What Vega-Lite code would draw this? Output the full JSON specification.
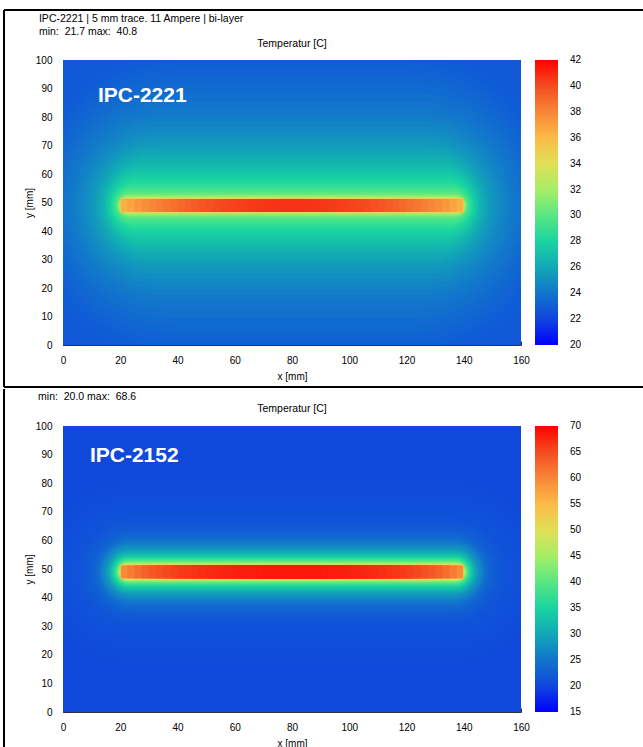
{
  "$schema": "https://vega.github.io/schema/vega-lite/v6.json",
  "background": "white",
  "padding": {"left": 3, "top": 9, "right": 0, "bottom": 0},
  "config": {
    "font": "Liberation Sans",
    "view": {"stroke": null},
    "axis": {"labelFontSize": 10, "labelColor": "#000", "titleFontSize": 10, "titleFontWeight": "normal", "titleColor": "#000", "grid": false, "domainColor": "#333", "tickColor": "#1a2a60", "labelFlush": false, "labelOverlap": false, "tickSize": -4, "zindex": 1},
    "axisX": {"tickCount": 9, "labelPadding": 14, "titlePadding": 6},
    "axisY": {"tickCount": 11, "labelPadding": 15, "titlePadding": 1},
    "legend": {"labelFontSize": 10, "labelColor": "#000"}
  },
  "datasets": {
    "a": [
      {"k": "b", "t": 22.6, "x": 0, "x2": 160, "y": 0, "y2": 100},
      {"k": "i", "t": 22.8, "x": -30, "x2": 190, "y": -15.5, "y2": 113.5},
      {"k": "i", "t": 22.9, "x": -20, "x2": 180, "y": -8.5, "y2": 106.5},
      {"k": "i", "t": 23.0, "x": -13, "x2": 173, "y": -3.5, "y2": 101.5},
      {"k": "i", "t": 23.15, "x": -10, "x2": 170, "y": -1, "y2": 99},
      {"k": "i", "t": 23.3, "x": -8, "x2": 168, "y": 1.5, "y2": 96.5},
      {"k": "i", "t": 23.45, "x": -6, "x2": 166, "y": 4, "y2": 94},
      {"k": "i", "t": 23.6, "x": -4, "x2": 164, "y": 6.5, "y2": 91.5},
      {"k": "i", "t": 23.8, "x": -2, "x2": 162, "y": 9.5, "y2": 88.5},
      {"k": "i", "t": 24.0, "x": 0, "x2": 160, "y": 12.5, "y2": 85.5},
      {"k": "i", "t": 24.2, "x": 1.8, "x2": 158.2, "y": 15, "y2": 83},
      {"k": "i", "t": 24.4, "x": 3.5, "x2": 156.5, "y": 17.5, "y2": 80.5},
      {"k": "i", "t": 24.6, "x": 5, "x2": 155, "y": 19.5, "y2": 78.5},
      {"k": "i", "t": 24.8, "x": 6.5, "x2": 153.5, "y": 21.5, "y2": 76.5},
      {"k": "i", "t": 25.0, "x": 7.8, "x2": 152.2, "y": 23.2, "y2": 74.8},
      {"k": "i", "t": 25.2, "x": 9, "x2": 151, "y": 24.8, "y2": 73.2},
      {"k": "i", "t": 25.4, "x": 10, "x2": 150, "y": 26.3, "y2": 71.7},
      {"k": "i", "t": 25.6, "x": 10.8, "x2": 149.2, "y": 27.7, "y2": 70.3},
      {"k": "i", "t": 25.8, "x": 11.7, "x2": 148.3, "y": 29, "y2": 69},
      {"k": "i", "t": 26.0, "x": 12.5, "x2": 147.5, "y": 30.3, "y2": 67.7},
      {"k": "i", "t": 26.2, "x": 13.1, "x2": 146.9, "y": 31.5, "y2": 66.5},
      {"k": "i", "t": 26.4, "x": 13.7, "x2": 146.3, "y": 32.6, "y2": 65.4},
      {"k": "i", "t": 26.6, "x": 14.15, "x2": 145.85, "y": 33.7, "y2": 64.3},
      {"k": "i", "t": 26.8, "x": 14.6, "x2": 145.4, "y": 34.7, "y2": 63.3},
      {"k": "i", "t": 27.0, "x": 14.95, "x2": 145.05, "y": 35.7, "y2": 62.3},
      {"k": "i", "t": 27.2, "x": 15.3, "x2": 144.7, "y": 36.6, "y2": 61.4},
      {"k": "i", "t": 27.4, "x": 15.65, "x2": 144.35, "y": 37.5, "y2": 60.5},
      {"k": "i", "t": 27.6, "x": 16, "x2": 144, "y": 38.3, "y2": 59.7},
      {"k": "i", "t": 27.8, "x": 16.3, "x2": 143.7, "y": 39, "y2": 59},
      {"k": "i", "t": 28.0, "x": 16.6, "x2": 143.4, "y": 39.7, "y2": 58.3},
      {"k": "i", "t": 28.2, "x": 16.85, "x2": 143.15, "y": 40.3, "y2": 57.7},
      {"k": "i", "t": 28.4, "x": 17.1, "x2": 142.9, "y": 40.9, "y2": 57.1},
      {"k": "i", "t": 28.6, "x": 17.35, "x2": 142.65, "y": 41.45, "y2": 56.55},
      {"k": "i", "t": 28.8, "x": 17.6, "x2": 142.4, "y": 42, "y2": 56},
      {"k": "i", "t": 29.0, "x": 17.8, "x2": 142.2, "y": 42.45, "y2": 55.55},
      {"k": "i", "t": 29.2, "x": 18, "x2": 142, "y": 42.9, "y2": 55.1},
      {"k": "i", "t": 29.4, "x": 18.2, "x2": 141.8, "y": 43.3, "y2": 54.7},
      {"k": "i", "t": 29.6, "x": 18.4, "x2": 141.6, "y": 43.7, "y2": 54.3},
      {"k": "i", "t": 30.0, "x": 18.7, "x2": 141.3, "y": 44.3, "y2": 53.7},
      {"k": "i", "t": 30.5, "x": 19, "x2": 141, "y": 44.9, "y2": 53.1},
      {"k": "i", "t": 31.0, "x": 19.2, "x2": 140.8, "y": 45.3, "y2": 52.7},
      {"k": "i", "t": 31.6, "x": 19.45, "x2": 140.55, "y": 45.7, "y2": 52.3},
      {"k": "i", "t": 32.3, "x": 19.65, "x2": 140.35, "y": 46.05, "y2": 51.95},
      {"k": "i", "t": 33.0, "x": 19.85, "x2": 140.15, "y": 46.3, "y2": 51.7},
      {"k": "t", "t": 35.5, "x": 20, "x2": 140, "y": 46.5, "y2": 51.5},
      {"k": "t", "t": 36.4, "x": 20.25, "x2": 139.75, "y": 46.75, "y2": 51.25},
      {"k": "t", "t": 36.9, "x": 22.5, "x2": 137.5, "y": 46.75, "y2": 51.25},
      {"k": "t", "t": 37.3, "x": 25, "x2": 135, "y": 46.75, "y2": 51.25},
      {"k": "t", "t": 37.7, "x": 27.5, "x2": 132.5, "y": 46.75, "y2": 51.25},
      {"k": "t", "t": 38.0, "x": 30, "x2": 130, "y": 46.75, "y2": 51.25},
      {"k": "t", "t": 38.3, "x": 32.5, "x2": 127.5, "y": 46.75, "y2": 51.25},
      {"k": "t", "t": 38.55, "x": 35, "x2": 125, "y": 46.75, "y2": 51.25},
      {"k": "t", "t": 38.8, "x": 37.5, "x2": 122.5, "y": 46.75, "y2": 51.25},
      {"k": "t", "t": 39.05, "x": 40, "x2": 120, "y": 46.75, "y2": 51.25},
      {"k": "t", "t": 39.3, "x": 42.5, "x2": 117.5, "y": 46.75, "y2": 51.25},
      {"k": "t", "t": 39.5, "x": 45, "x2": 115, "y": 46.75, "y2": 51.25},
      {"k": "t", "t": 39.7, "x": 47.5, "x2": 112.5, "y": 46.75, "y2": 51.25},
      {"k": "t", "t": 39.85, "x": 50, "x2": 110, "y": 46.75, "y2": 51.25},
      {"k": "t", "t": 40.0, "x": 52.5, "x2": 107.5, "y": 46.75, "y2": 51.25},
      {"k": "t", "t": 40.15, "x": 55, "x2": 105, "y": 46.75, "y2": 51.25},
      {"k": "t", "t": 40.25, "x": 57.5, "x2": 102.5, "y": 46.75, "y2": 51.25},
      {"k": "t", "t": 40.35, "x": 60, "x2": 100, "y": 46.75, "y2": 51.25},
      {"k": "t", "t": 40.45, "x": 62.5, "x2": 97.5, "y": 46.75, "y2": 51.25},
      {"k": "t", "t": 40.55, "x": 65, "x2": 95, "y": 46.75, "y2": 51.25},
      {"k": "t", "t": 40.62, "x": 67.5, "x2": 92.5, "y": 46.75, "y2": 51.25},
      {"k": "t", "t": 40.7, "x": 70, "x2": 90, "y": 46.75, "y2": 51.25},
      {"k": "t", "t": 40.75, "x": 72.5, "x2": 87.5, "y": 46.75, "y2": 51.25},
      {"k": "t", "t": 40.8, "x": 75, "x2": 85, "y": 46.75, "y2": 51.25}
    ],
    "b": [
      {"k": "b", "t": 20.2, "x": 0, "x2": 160, "y": 0, "y2": 100},
      {"k": "i", "t": 20.5, "x": -10, "x2": 170, "y": 14.5, "y2": 83.5},
      {"k": "i", "t": 20.65, "x": -7, "x2": 167, "y": 18.5, "y2": 79.5},
      {"k": "i", "t": 20.8, "x": -4, "x2": 164, "y": 22.5, "y2": 75.5},
      {"k": "i", "t": 21.0, "x": -1.5, "x2": 161.5, "y": 25, "y2": 73},
      {"k": "i", "t": 21.2, "x": 1, "x2": 159, "y": 27.5, "y2": 70.5},
      {"k": "i", "t": 21.4, "x": 3, "x2": 157, "y": 29, "y2": 69},
      {"k": "i", "t": 21.6, "x": 5, "x2": 155, "y": 30.5, "y2": 67.5},
      {"k": "i", "t": 21.8, "x": 6.25, "x2": 153.75, "y": 31.25, "y2": 66.75},
      {"k": "i", "t": 22.0, "x": 7.5, "x2": 152.5, "y": 32, "y2": 66},
      {"k": "i", "t": 22.3, "x": 8.35, "x2": 151.65, "y": 32.95, "y2": 65.05},
      {"k": "i", "t": 22.6, "x": 9.2, "x2": 150.8, "y": 33.9, "y2": 64.1},
      {"k": "i", "t": 22.95, "x": 9.9, "x2": 150.1, "y": 34.7, "y2": 63.3},
      {"k": "i", "t": 23.3, "x": 10.6, "x2": 149.4, "y": 35.5, "y2": 62.5},
      {"k": "i", "t": 23.65, "x": 11.15, "x2": 148.85, "y": 36.15, "y2": 61.85},
      {"k": "i", "t": 24.0, "x": 11.7, "x2": 148.3, "y": 36.8, "y2": 61.2},
      {"k": "i", "t": 24.4, "x": 12.1, "x2": 147.9, "y": 37.3, "y2": 60.7},
      {"k": "i", "t": 24.8, "x": 12.5, "x2": 147.5, "y": 37.8, "y2": 60.2},
      {"k": "i", "t": 25.25, "x": 12.85, "x2": 147.15, "y": 38.2, "y2": 59.8},
      {"k": "i", "t": 25.7, "x": 13.2, "x2": 146.8, "y": 38.6, "y2": 59.4},
      {"k": "i", "t": 26.2, "x": 13.5, "x2": 146.5, "y": 39, "y2": 59},
      {"k": "i", "t": 26.7, "x": 13.8, "x2": 146.2, "y": 39.4, "y2": 58.6},
      {"k": "i", "t": 27.25, "x": 14.15, "x2": 145.85, "y": 39.8, "y2": 58.2},
      {"k": "i", "t": 27.8, "x": 14.5, "x2": 145.5, "y": 40.2, "y2": 57.8},
      {"k": "i", "t": 29.0, "x": 15.2, "x2": 144.8, "y": 41, "y2": 57},
      {"k": "i", "t": 30.3, "x": 15.8, "x2": 144.2, "y": 41.7, "y2": 56.3},
      {"k": "i", "t": 31.7, "x": 16.4, "x2": 143.6, "y": 42.4, "y2": 55.6},
      {"k": "i", "t": 33.2, "x": 16.9, "x2": 143.1, "y": 43, "y2": 55},
      {"k": "i", "t": 34.8, "x": 17.4, "x2": 142.6, "y": 43.6, "y2": 54.4},
      {"k": "i", "t": 36.5, "x": 17.9, "x2": 142.1, "y": 44.1, "y2": 53.9},
      {"k": "i", "t": 38.3, "x": 18.3, "x2": 141.7, "y": 44.6, "y2": 53.4},
      {"k": "i", "t": 40.2, "x": 18.7, "x2": 141.3, "y": 45.05, "y2": 52.95},
      {"k": "i", "t": 42.2, "x": 19.05, "x2": 140.95, "y": 45.45, "y2": 52.55},
      {"k": "i", "t": 44.3, "x": 19.4, "x2": 140.6, "y": 45.8, "y2": 52.2},
      {"k": "i", "t": 46.5, "x": 19.65, "x2": 140.35, "y": 46.1, "y2": 51.9},
      {"k": "i", "t": 49.0, "x": 19.87, "x2": 140.13, "y": 46.35, "y2": 51.65},
      {"k": "t", "t": 55.0, "x": 20, "x2": 140, "y": 46.5, "y2": 51.5},
      {"k": "t", "t": 59.5, "x": 20.25, "x2": 139.75, "y": 46.75, "y2": 51.25},
      {"k": "t", "t": 61.0, "x": 22.5, "x2": 137.5, "y": 46.75, "y2": 51.25},
      {"k": "t", "t": 62.2, "x": 25, "x2": 135, "y": 46.75, "y2": 51.25},
      {"k": "t", "t": 63.2, "x": 27.5, "x2": 132.5, "y": 46.75, "y2": 51.25},
      {"k": "t", "t": 64.0, "x": 30, "x2": 130, "y": 46.75, "y2": 51.25},
      {"k": "t", "t": 64.7, "x": 32.5, "x2": 127.5, "y": 46.75, "y2": 51.25},
      {"k": "t", "t": 65.3, "x": 35, "x2": 125, "y": 46.75, "y2": 51.25},
      {"k": "t", "t": 65.8, "x": 37.5, "x2": 122.5, "y": 46.75, "y2": 51.25},
      {"k": "t", "t": 66.3, "x": 40, "x2": 120, "y": 46.75, "y2": 51.25},
      {"k": "t", "t": 66.6, "x": 42.5, "x2": 117.5, "y": 46.75, "y2": 51.25},
      {"k": "t", "t": 66.9, "x": 45, "x2": 115, "y": 46.75, "y2": 51.25},
      {"k": "t", "t": 67.2, "x": 47.5, "x2": 112.5, "y": 46.75, "y2": 51.25},
      {"k": "t", "t": 67.45, "x": 50, "x2": 110, "y": 46.75, "y2": 51.25},
      {"k": "t", "t": 67.65, "x": 52.5, "x2": 107.5, "y": 46.75, "y2": 51.25},
      {"k": "t", "t": 67.85, "x": 55, "x2": 105, "y": 46.75, "y2": 51.25},
      {"k": "t", "t": 68.0, "x": 57.5, "x2": 102.5, "y": 46.75, "y2": 51.25},
      {"k": "t", "t": 68.15, "x": 60, "x2": 100, "y": 46.75, "y2": 51.25},
      {"k": "t", "t": 68.25, "x": 62.5, "x2": 97.5, "y": 46.75, "y2": 51.25},
      {"k": "t", "t": 68.35, "x": 65, "x2": 95, "y": 46.75, "y2": 51.25},
      {"k": "t", "t": 68.45, "x": 67.5, "x2": 92.5, "y": 46.75, "y2": 51.25},
      {"k": "t", "t": 68.5, "x": 70, "x2": 90, "y": 46.75, "y2": 51.25},
      {"k": "t", "t": 68.55, "x": 72.5, "x2": 87.5, "y": 46.75, "y2": 51.25},
      {"k": "t", "t": 68.6, "x": 75, "x2": 85, "y": 46.75, "y2": 51.25}
    ]
  },
  "vconcat": [
    {
      "width": 458,
      "height": 285,
      "data": {"name": "a"},
      "layer": [
        {
          "transform": [{"filter": "datum.k == 'b'"}],
          "mark": {"type": "rect", "clip": true},
          "encoding": {
            "x": {"field": "x", "type": "quantitative", "title": "x [mm]", "scale": {"domain": [0, 160], "nice": false, "zero": false}},
            "x2": {"field": "x2"},
            "y": {"field": "y", "type": "quantitative", "title": "y [mm]", "scale": {"domain": [0, 100], "nice": false, "zero": false}},
            "y2": {"field": "y2"},
            "color": {
              "field": "t", "type": "quantitative",
              "scale": {"domain": [20, 21, 22, 23, 24, 25, 26, 27, 28, 29, 30, 31, 32, 33, 34, 35, 36, 37, 38, 39, 40, 41, 42], "range": ["#0000ff", "#0a2cf0", "#1046dc", "#105cd6", "#1274cc", "#128ec2", "#12a8b6", "#14c0aa", "#1ad4a0", "#34e092", "#5ae682", "#82ec72", "#a6ee66", "#c6ea5c", "#e0e056", "#f6d050", "#fcba48", "#faa040", "#f88638", "#f66a2c", "#f44c20", "#f82a12", "#ff0000"], "interpolate": "rgb"},
              "legend": {"orient": "none", "direction": "vertical", "legendX": 472, "legendY": 0, "title": null, "padding": 0, "gradientLength": 285, "gradientThickness": 23, "gradientStrokeWidth": 0, "values": [20, 22, 24, 26, 28, 30, 32, 34, 36, 38, 40, 42], "labelOffset": 12, "labelOverlap": false, "encode": {"labels": {"enter": {"baseline": {"value": "middle"}}, "update": {"baseline": {"value": "middle"}}}}}
            }
          }
        },
        {
          "transform": [{"filter": "datum.k == 'i'"}],
          "mark": {"type": "rect", "clip": true, "cornerRadius": 3000},
          "encoding": {
            "x": {"field": "x", "type": "quantitative", "title": "x [mm]"},
            "x2": {"field": "x2"},
            "y": {"field": "y", "type": "quantitative", "title": "y [mm]"},
            "y2": {"field": "y2"},
            "color": {"field": "t", "type": "quantitative"}
          }
        },
        {
          "transform": [{"filter": "datum.k == 't'"}],
          "mark": {"type": "rect", "clip": true},
          "encoding": {
            "x": {"field": "x", "type": "quantitative", "title": "x [mm]"},
            "x2": {"field": "x2"},
            "y": {"field": "y", "type": "quantitative", "title": "y [mm]"},
            "y2": {"field": "y2"},
            "color": {"field": "t", "type": "quantitative"}
          }
        },
        {
          "data": {"values": [{}]},
          "mark": {"type": "text", "text": "IPC-2221", "align": "left", "baseline": "middle", "fontSize": 21, "fontWeight": "bold", "color": "white"},
          "encoding": {"x": {"datum": 12.2, "type": "quantitative", "title": "x [mm]"}, "y": {"datum": 87.4, "type": "quantitative", "title": "y [mm]"}}
        },
        {
          "data": {"values": [{}]},
          "mark": {"type": "text", "text": "IPC-2221 | 5 mm trace. 11 Ampere | bi-layer", "align": "left", "baseline": "middle", "fontSize": 10.5, "color": "#000"},
          "encoding": {"x": {"datum": -8.4, "type": "quantitative", "title": "x [mm]"}, "y": {"datum": 114.4, "type": "quantitative", "title": "y [mm]"}}
        },
        {
          "data": {"values": [{}]},
          "mark": {"type": "text", "text": "min:\u00a0 21.7 max:\u00a0 40.8", "align": "left", "baseline": "middle", "fontSize": 10.5, "color": "#000"},
          "encoding": {"x": {"datum": -8.4, "type": "quantitative", "title": "x [mm]"}, "y": {"datum": 109.8, "type": "quantitative", "title": "y [mm]"}}
        },
        {
          "data": {"values": [{}]},
          "mark": {"type": "text", "text": "Temperatur [C]", "align": "center", "baseline": "middle", "fontSize": 10.5, "color": "#000"},
          "encoding": {"x": {"datum": 80, "type": "quantitative", "title": "x [mm]"}, "y": {"datum": 105.6, "type": "quantitative", "title": "y [mm]"}}
        },
        {
          "data": {"values": [{}]},
          "mark": {"type": "rule", "strokeWidth": 2, "color": "#000"},
          "encoding": {"x": {"datum": -20.61, "type": "quantitative", "title": "x [mm]"}, "x2": {"datum": 202.62}, "y": {"datum": 117.54, "type": "quantitative", "title": "y [mm]"}}
        },
        {
          "data": {"values": [{}]},
          "mark": {"type": "rule", "strokeWidth": 2, "color": "#000"},
          "encoding": {"x": {"datum": -20.61, "type": "quantitative", "title": "x [mm]"}, "x2": {"datum": 202.62}, "y": {"datum": -14.74, "type": "quantitative", "title": "y [mm]"}}
        },
        {
          "data": {"values": [{}]},
          "mark": {"type": "rule", "strokeWidth": 2, "color": "#000"},
          "encoding": {"x": {"datum": -20.61, "type": "quantitative", "title": "x [mm]"}, "y": {"datum": 117.54, "type": "quantitative", "title": "y [mm]"}, "y2": {"datum": -14.74}}
        }
      ]
    },
    {
      "width": 458,
      "height": 286,
      "data": {"name": "b"},
      "layer": [
        {
          "transform": [{"filter": "datum.k == 'b'"}],
          "mark": {"type": "rect", "clip": true},
          "encoding": {
            "x": {"field": "x", "type": "quantitative", "title": "x [mm]", "scale": {"domain": [0, 160], "nice": false, "zero": false}},
            "x2": {"field": "x2"},
            "y": {"field": "y", "type": "quantitative", "title": "y [mm]", "scale": {"domain": [0, 100], "nice": false, "zero": false}},
            "y2": {"field": "y2"},
            "color": {
              "field": "t", "type": "quantitative",
              "scale": {"domain": [15, 17.5, 20, 22.5, 25, 27.5, 30, 32.5, 35, 37.5, 40, 42.5, 45, 47.5, 50, 52.5, 55, 57.5, 60, 62.5, 65, 67.5, 70], "range": ["#0000ff", "#0a2cf0", "#1046dc", "#105cd6", "#1274cc", "#128ec2", "#12a8b6", "#14c0aa", "#1ad4a0", "#34e092", "#5ae682", "#82ec72", "#a6ee66", "#c6ea5c", "#e0e056", "#f6d050", "#fcba48", "#faa040", "#f88638", "#f66a2c", "#f44c20", "#f82a12", "#ff0000"], "interpolate": "rgb"},
              "legend": {"orient": "none", "direction": "vertical", "legendX": 472, "legendY": 0, "title": null, "padding": 0, "gradientLength": 286, "gradientThickness": 23, "gradientStrokeWidth": 0, "values": [15, 20, 25, 30, 35, 40, 45, 50, 55, 60, 65, 70], "labelOffset": 12, "labelOverlap": false, "encode": {"labels": {"enter": {"baseline": {"value": "middle"}}, "update": {"baseline": {"value": "middle"}}}}}
            }
          }
        },
        {
          "transform": [{"filter": "datum.k == 'i'"}],
          "mark": {"type": "rect", "clip": true, "cornerRadius": 3000},
          "encoding": {
            "x": {"field": "x", "type": "quantitative", "title": "x [mm]"},
            "x2": {"field": "x2"},
            "y": {"field": "y", "type": "quantitative", "title": "y [mm]"},
            "y2": {"field": "y2"},
            "color": {"field": "t", "type": "quantitative"}
          }
        },
        {
          "transform": [{"filter": "datum.k == 't'"}],
          "mark": {"type": "rect", "clip": true},
          "encoding": {
            "x": {"field": "x", "type": "quantitative", "title": "x [mm]"},
            "x2": {"field": "x2"},
            "y": {"field": "y", "type": "quantitative", "title": "y [mm]"},
            "y2": {"field": "y2"},
            "color": {"field": "t", "type": "quantitative"}
          }
        },
        {
          "data": {"values": [{}]},
          "mark": {"type": "text", "text": "IPC-2152", "align": "left", "baseline": "middle", "fontSize": 21, "fontWeight": "bold", "color": "white"},
          "encoding": {"x": {"datum": 9.4, "type": "quantitative", "title": "x [mm]"}, "y": {"datum": 89.5, "type": "quantitative", "title": "y [mm]"}}
        },
        {
          "data": {"values": [{}]},
          "mark": {"type": "text", "text": "min:\u00a0 20.0 max:\u00a0 68.6", "align": "left", "baseline": "middle", "fontSize": 10.5, "color": "#000"},
          "encoding": {"x": {"datum": -8.7, "type": "quantitative", "title": "x [mm]"}, "y": {"datum": 110.1, "type": "quantitative", "title": "y [mm]"}}
        },
        {
          "data": {"values": [{}]},
          "mark": {"type": "text", "text": "Temperatur [C]", "align": "center", "baseline": "middle", "fontSize": 10.5, "color": "#000"},
          "encoding": {"x": {"datum": 80, "type": "quantitative", "title": "x [mm]"}, "y": {"datum": 105.8, "type": "quantitative", "title": "y [mm]"}}
        },
        {
          "data": {"values": [{}]},
          "mark": {"type": "rule", "strokeWidth": 2, "color": "#000"},
          "encoding": {"x": {"datum": -20.61, "type": "quantitative", "title": "x [mm]"}, "y": {"datum": 112.94, "type": "quantitative", "title": "y [mm]"}, "y2": {"datum": -17.5}}
        }
      ]
    }
  ],
  "spacing": -2,
  "resolve": {"scale": {"color": "independent", "x": "independent", "y": "independent"}, "legend": {"color": "independent"}}
}
